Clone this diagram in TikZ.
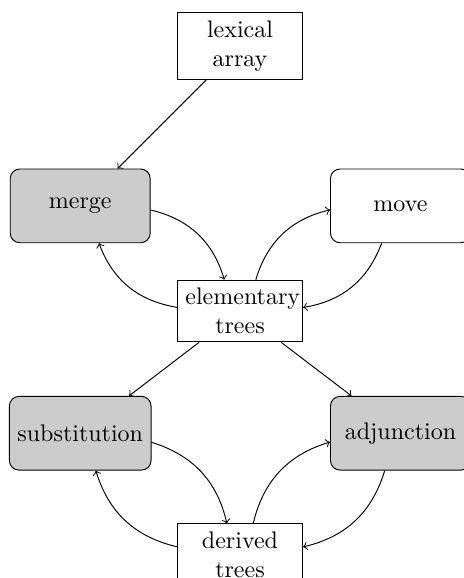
\documentclass[tikz,border=0pt]{standalone}
\usetikzlibrary{positioning}
\begin{document}
\begin{tikzpicture}[on grid,
  box/.style = {draw, rectangle, text width=1.6cm, align=center},
  act/.style = {draw, rectangle, rounded corners, minimum width=2.05cm, minimum height=1.08cm},
  busy/.style = {act, fill=black!20}]
\useasboundingbox (-3.515,-3.91) rectangle (3.28,4.555);
\node[box] (elem) {elementary trees};
\node[box] (lex) [above=3.88cm of elem] {lexical array};
\node[busy] (merge) [above left=1.54cm and 2.34cm of elem] {merge};
\node[act] (move) [above right=1.54cm and 2.35cm of elem] {move};
\node[busy] (subst) [below left=1.79cm and 2.34cm of elem] {substitution};
\node[busy] (adj) [below right=1.79cm and 2.35cm of elem] {adjunction};
\node[box] (der) [below=3.57cm of elem] {derived trees};

\draw[->] (lex) -- (merge);
\draw[->] (merge) to[bend left] (elem);
\draw[->] (elem) to[bend left] (merge);
\draw[->] (elem) to[bend left] (move);
\draw[->] (move) to[bend left] (elem);

\draw[->] (elem) -- (subst);
\draw[->] (elem) -- (adj);
\draw[->] (subst) to[bend left] (der);
\draw[->] (der) to[bend left] (subst);
\draw[->] (der) to[bend left] (adj);
\draw[->] (adj) to[bend left] (der);
\end{tikzpicture}
\end{document}
